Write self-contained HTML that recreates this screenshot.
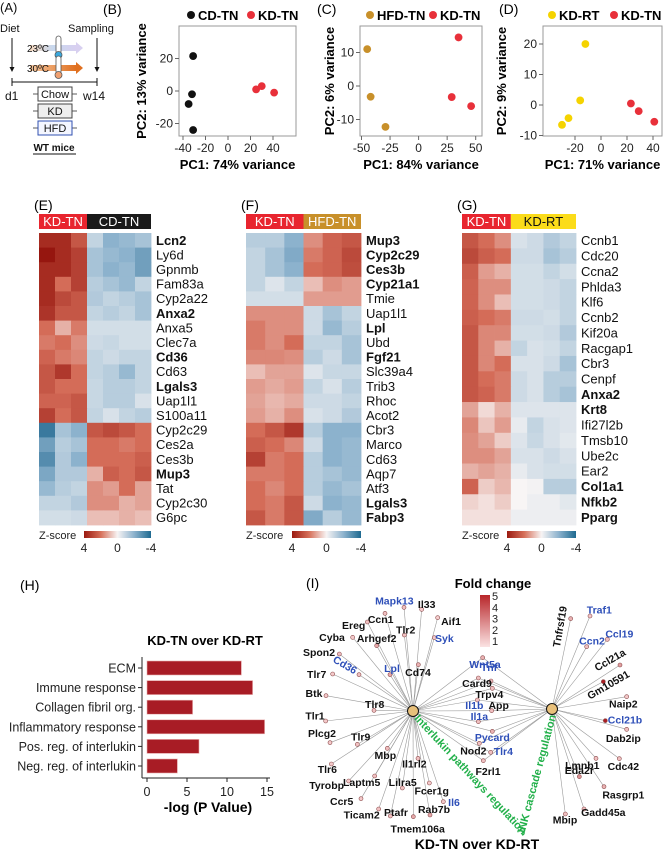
<!DOCTYPE html>
<html><head><meta charset="utf-8"><style>
html,body{margin:0;padding:0;background:#fff}
svg{display:block;font-family:"Liberation Sans",Arial,sans-serif}
</style></head><body>
<svg id="fig" width="663" height="852" viewBox="0 0 663 852" xmlns="http://www.w3.org/2000/svg">
<defs>
<linearGradient id="zg" x1="0" x2="1" y1="0" y2="0"><stop offset="0" stop-color="#9b1a10"/><stop offset="0.25" stop-color="#d6705a"/><stop offset="0.5" stop-color="#f7f4f4"/><stop offset="0.75" stop-color="#8cb2cd"/><stop offset="1" stop-color="#1e6a90"/></linearGradient>
<linearGradient id="fg" x1="0" x2="0" y1="0" y2="1"><stop offset="0" stop-color="#b8262a"/><stop offset="1" stop-color="#fbe3e3"/></linearGradient>
<linearGradient id="cold" x1="0" x2="1"><stop offset="0" stop-color="#f6d9c0"/><stop offset="0.5" stop-color="#c8d8ee"/><stop offset="1" stop-color="#d8d0f0"/></linearGradient>
<linearGradient id="warm" x1="0" x2="1"><stop offset="0" stop-color="#f6c8a0"/><stop offset="1" stop-color="#e07020"/></linearGradient>
</defs>

<!-- Panel A -->
<g font-size="11" fill="#111">
<text x="0" y="12" font-size="13">(A)</text>
<text x="0" y="32">Diet</text>
<text x="68" y="32">Sampling</text>
<line x1="12" y1="38" x2="12" y2="70" stroke="#111"/><path d="M9.5,67 L14.5,67 L12,72Z" fill="#111"/>
<line x1="97" y1="38" x2="97" y2="70" stroke="#111"/><path d="M94.5,67 L99.5,67 L97,72Z" fill="#111"/>
<rect x="30" y="45" width="46" height="6" fill="url(#cold)"/><path d="M76,42 L83,48 L76,54Z" fill="#d8d0f0"/>
<rect x="30" y="65" width="46" height="6" fill="url(#warm)"/><path d="M76,62 L83,68 L76,74Z" fill="#e07020"/>
<text x="27" y="52" font-size="10">23ºC</text>
<text x="27" y="72" font-size="10">30ºC</text>
<rect x="56" y="36" width="5" height="18" rx="2.5" fill="#fff" stroke="#555" stroke-width="0.8"/><circle cx="58.5" cy="55" r="3.5" fill="#3aa8dd" stroke="#555" stroke-width="0.8"/>
<rect x="56" y="56" width="5" height="18" rx="2.5" fill="#fff" stroke="#555" stroke-width="0.8"/><circle cx="58.5" cy="75" r="3.5" fill="#f0a070" stroke="#555" stroke-width="0.8"/>
<line x1="12" y1="82" x2="97" y2="82" stroke="#111"/><line x1="12" y1="78" x2="12" y2="86" stroke="#111"/><line x1="97" y1="78" x2="97" y2="86" stroke="#111"/>
<text x="5" y="100" font-size="12">d1</text>
<text x="83" y="100" font-size="12">w14</text>
<g stroke="#333" stroke-width="0.8"><line x1="33" y1="94" x2="38" y2="94"/><line x1="72" y1="94" x2="77" y2="94"/><line x1="33" y1="111" x2="38" y2="111"/><line x1="72" y1="111" x2="77" y2="111"/><line x1="33" y1="128" x2="38" y2="128"/><line x1="72" y1="128" x2="77" y2="128"/></g>
<rect x="38" y="87" width="34" height="14" fill="#fff" stroke="#444"/><text x="55" y="98" text-anchor="middle" font-size="11">Chow</text>
<rect x="38" y="104" width="34" height="14" fill="#eee" stroke="#444"/><text x="55" y="115" text-anchor="middle" font-size="11">KD</text>
<rect x="38" y="121" width="34" height="14" fill="#f4f6ff" stroke="#3050b0"/><text x="55" y="132" text-anchor="middle" font-size="11">HFD</text>
<text x="54" y="151" text-anchor="middle" font-weight="bold" font-size="10">WT mice</text>
<line x1="33" y1="154" x2="76" y2="154" stroke="#111"/>
</g>
<g id="pca"></g>
<g id="heat"></g>
<g id="bars"></g>
<g id="net"></g>
</svg>
<script>
const NS="http://www.w3.org/2000/svg";
function mk(parent,tag,attrs,text){const e=document.createElementNS(NS,tag);for(const k in attrs)e.setAttribute(k,attrs[k]);if(text!==undefined)e.textContent=text;parent.appendChild(e);return e;}

/* ---------- PCA data ---------- */
const pcaB_cd_x=[-31,-32,-35,-31], pcaB_cd_y=[21.5,-2,-8,-24];
const pcaB_kd_x=[25,30,41], pcaB_kd_y=[1,3,-1];
const pcaC_hfd_x=[-45,-42,-29], pcaC_hfd_y=[11,-3.2,-12.2];
const pcaC_kd_x=[35,29,46], pcaC_kd_y=[14.5,-3.3,-6];
const pcaD_rt_x=[-12,-16,-25,-30], pcaD_rt_y=[20,1.5,-4.3,-6.5];
const pcaD_kd_x=[23,29,41], pcaD_kd_y=[0.5,-2,-5.5];
const ticksBx=[-40,-20,0,20,40], ticksBy=[20,0,-20];
const ticksCx=[-50,-25,0,25,50], ticksCy=[10,0,-10];
const ticksDx=[-20,0,20,40], ticksDy=[20,10,0,-10];

const pcaG=document.getElementById('pca');
function pca(cfg){
  const g=mk(pcaG,'g',{});
  
  
  const sx=v=>cfg.x0+(v-cfg.dx0)*cfg.kx, sy=v=>cfg.y0-(v-cfg.dy0)*cfg.ky;
  mk(g,'rect',{x:cfg.L,y:cfg.T,width:cfg.R-cfg.L,height:cfg.B-cfg.T,fill:'none',stroke:'#999','stroke-width':1});
  mk(g,'text',{x:cfg.lab[0],y:cfg.lab[1],'font-size':14},cfg.label);
  cfg.xt.forEach(v=>{mk(g,'line',{x1:sx(v),x2:sx(v),y1:cfg.B,y2:cfg.B+4,stroke:'#666'});
    const tl=mk(g,'text',{x:sx(v),y:cfg.B+16,'text-anchor':'middle','font-size':12,fill:'#222'},v);
    });
  cfg.yt.forEach(v=>{mk(g,'line',{x1:cfg.L-4,x2:cfg.L,y1:sy(v),y2:sy(v),stroke:'#666'});
    const tl=mk(g,'text',{x:cfg.L-6,y:sy(v)+4,'text-anchor':'end','font-size':12,fill:'#222'},v);
    });
  const xt=mk(g,'text',{x:(cfg.L+cfg.R)/2,y:169,'text-anchor':'middle','font-size':13,'font-weight':'bold'},cfg.xtitle);
  
  const yt=mk(g,'text',{x:0,y:0,'text-anchor':'middle','font-size':13,'font-weight':'bold',transform:`translate(${cfg.ytx},${(cfg.T+cfg.B)/2}) rotate(-90)`},cfg.ytitle);
  
  cfg.series.forEach(s=>{
    const lg=mk(g,'g',{});
    
    mk(lg,'circle',{cx:s.lx+4,cy:15,r:4,fill:s.c});
    mk(lg,'text',{x:s.lx+11,y:20,'font-size':13,'font-weight':'bold'},s.n);
    s.xs.forEach((v,i)=>{const c=mk(g,'circle',{cx:sx(v),cy:sy(s.ys[i]),r:3.9,fill:s.c});
      });
  });
}
pca({name:'panel-b-pca',L:179,R:296,T:26,B:136,x0:228,dx0:0,kx:1.125,y0:91,dy0:0,ky:1.625,xt:ticksBx,yt:ticksBy,lab:[103,14],label:'(B)',xtitle:'PC1: 74% variance',ytitle:'PC2: 13% variance',ytx:146,
 series:[{n:'CD-TN',c:'#111',lx:187,xs:pcaB_cd_x,ys:pcaB_cd_y},{n:'KD-TN',c:'#e8303a',lx:247,xs:pcaB_kd_x,ys:pcaB_kd_y}]});
pca({name:'panel-c-pca',L:360,R:482,T:26,B:136,x0:418.6,dx0:0,kx:1.142,y0:86,dy0:0,ky:3.35,xt:ticksCx,yt:ticksCy,lab:[317,14],label:'(C)',xtitle:'PC1: 84% variance',ytitle:'PC2: 6% variance',ytx:334,
 series:[{n:'HFD-TN',c:'#c8902a',lx:366,xs:pcaC_hfd_x,ys:pcaC_hfd_y},{n:'KD-TN',c:'#e8303a',lx:429,xs:pcaC_kd_x,ys:pcaC_kd_y}]});
pca({name:'panel-d-pca',L:543,R:662,T:26,B:136,x0:601,dx0:0,kx:1.3,y0:105,dy0:0,ky:3.05,xt:ticksDx,yt:ticksDy,lab:[499,14],label:'(D)',xtitle:'PC1: 71% variance',ytitle:'PC2: 9% variance',ytx:506,
 series:[{n:'KD-RT',c:'#f5d300',lx:548,xs:pcaD_rt_x,ys:pcaD_rt_y},{n:'KD-TN',c:'#e8303a',lx:610,xs:pcaD_kd_x,ys:pcaD_kd_y}]});

/* ---------- Heatmap data ---------- */
const genesE=['Lcn2','Ly6d','Gpnmb','Fam83a','Cyp2a22','Anxa2','Anxa5','Clec7a','Cd36','Cd63','Lgals3','Uap1l1','S100a11','Cyp2c29','Ces2a','Ces3b','Mup3','Tat','Cyp2c30','G6pc'];
const boldE=['Lcn2','Anxa2','Cd36','Lgals3','Mup3'];
const zE=[[3.5,3.5,2.5,-1,-2,-1.8,-1.5],[4,3.5,3,-1.5,-1.8,-2,-2.5],[3.5,3.5,3,-1.5,-2,-1.8,-2.5],[3.5,2,3,-1.2,-1.5,-1.8,-1],[3.5,2.8,2.5,-1.3,-1,-1.2,-1.5],[3.3,2.5,2.5,-1,-1.2,-1,-1.5],[2,1,1.8,-0.7,-0.7,-0.7,-0.7],[1.8,2,1.5,-0.8,-0.9,-0.7,-0.7],[2.2,1.8,1.6,-1,-0.8,-1,-1],[2.5,3.2,2,-1,-1.2,-1.8,-1],[2.5,2,2,-0.9,-1.2,-1.2,-1],[2.2,2.2,2.5,-0.9,-1.2,-1.2,-0.6],[3,2,2.5,-1,-0.6,-1,-1.2],[-3.5,-1.5,-2,2.5,2.8,2.5,2],[-2.5,-1.2,-1.5,2,2,1.8,2],[-3,-1.3,-2,2,2,2,2.3],[-2.3,-1.3,-1.3,1,2.3,2,2.5],[-1.8,-1.2,-1,1.5,1.3,2,1.2],[-1,-1,-1.3,1.5,1.5,1,1.2],[-0.7,-0.7,-0.8,0.8,0.8,1,0.8]];
const genesF=['Mup3','Cyp2c29','Ces3b','Cyp21a1','Tmie','Uap1l1','Lpl','Ubd','Fgf21','Slc39a4','Trib3','Rhoc','Acot2','Cbr3','Marco','Cd63','Aqp7','Atf3','Lgals3','Fabp3'];
const boldF=['Mup3','Cyp2c29','Ces3b','Cyp21a1','Lpl','Fgf21','Lgals3','Fabp3'];
const zF=[[-1.2,-1.2,-2,1.5,2.2,2.5],[-1,-1.5,-2.2,1.8,2.2,2.8],[-1,-1.5,-2,2,2.2,2.7],[-1,-0.5,-1,0.8,1.5,1.3],[-0.7,-0.7,-0.7,1.3,1.3,1.3],[1.5,1.5,1.5,-0.8,-1.5,-1],[1.8,1.5,1.5,-0.8,-1.8,-1.2],[1.8,1.5,2,-1,-1,-1.5],[1.6,1.6,1.5,-1.2,-0.8,-1.5],[0.8,1.2,1.2,-0.5,-0.9,-0.9],[1.3,1.1,1.3,-1,-0.6,-1.2],[1.2,0.9,1.1,-0.8,-0.8,-1],[1.3,1,1.5,-0.6,-0.8,-1.3],[2,2.5,3.2,-1.2,-2,-2],[2.3,2,1.6,-0.8,-2,-1.8],[3,1.8,2,-1.2,-2,-1.8],[1.8,1.8,2,-1.2,-1.5,-1.8],[2,1.6,2,-1.2,-1.8,-1.5],[2,1.8,2.5,-0.8,-2,-1.8],[2.5,1.8,2.5,-2.2,-1.2,-1.8]];
const genesG=['Ccnb1','Cdc20','Ccna2','Phlda3','Klf6','Ccnb2','Kif20a','Racgap1','Cbr3','Cenpf','Anxa2','Krt8','Ifi27l2b','Tmsb10','Ube2c','Ear2','Col1a1','Nfkb2','Pparg'];
const boldG=['Anxa2','Krt8','Col1a1','Nfkb2','Pparg'];
const zG=[[2.5,2,1.5,-0.6,-0.8,-1.3,-1],[2.8,2.3,2,-0.8,-0.8,-1.5,-1.2],[2.3,1.3,1,-0.7,-0.7,-1,-0.7],[2.2,1.5,1.5,-0.7,-0.7,-0.8,-1],[2.2,1.5,0.8,-0.7,-0.7,-0.8,-1],[2.3,2,1.8,-0.8,-0.8,-0.7,-1],[2.5,1.6,1.6,-0.7,-0.7,-0.8,-1.3],[2.5,1.6,1,-1,-0.6,-0.7,-1],[2.5,1.6,2,-0.6,-0.6,-0.8,-1.5],[2.5,2,1.8,-0.8,-0.6,-1.2,-1.2],[2.5,2.2,1.8,-0.8,-0.6,-1.2,-1.5],[1.2,0.4,1,-0.5,-0.5,-0.5,-0.5],[1.6,0.7,1.3,-0.3,-1,-0.6,-0.5],[1.5,1.2,0.6,-0.5,-0.9,-0.6,-0.4],[1.5,1.5,1.2,-0.6,-0.6,-0.8,-0.6],[1,1.2,1,-0.3,-0.6,-0.7,-0.7],[2.2,0.6,0.9,0,-0.1,-1.2,-1.2],[0.5,0.3,0.6,0,-0.2,-0.2,-0.4],[0.3,0.3,0.3,-0.2,-0.2,-0.2,-0.2]];
const zScaleStops=[4,2,0,-2,-4];
const zScaleCols=[[150,22,15],[212,108,88],[248,245,245],[140,178,205],[30,102,142]];
function zcol(v){v=Math.max(-4,Math.min(4,v));
  for(let i=0;i<4;i++){const a=zScaleStops[i],b=zScaleStops[i+1];if(v<=a&&v>=b){const t=(a-v)/(a-b);const c=zScaleCols[i].map((x,k)=>Math.round(x+(zScaleCols[i+1][k]-x)*t));return `rgb(${c})`;}}return '#fff';}

const heatG=document.getElementById('heat');
function heat(cfg){
  const g=mk(heatG,'g',{});
  
  mk(g,'text',{x:cfg.L-5,y:210,'font-size':14},cfg.label);
  const top=233,bottom=525,rh=(bottom-top)/cfg.genes.length,nc=cfg.z[0].length,cw=(cfg.R-cfg.L)/nc;
  const xs=cfg.L+cw*cfg.split;
  const h1=mk(g,'rect',{x:cfg.L,y:214,width:xs-cfg.L,height:15,fill:'#e8252f'});
  
  mk(g,'text',{x:(cfg.L+xs)/2,y:226,'text-anchor':'middle','font-size':13,fill:'#fff'},'KD-TN');
  const h2=mk(g,'rect',{x:xs,y:214,width:cfg.R-xs,height:15,fill:cfg.g2c});
  
  mk(g,'text',{x:(xs+cfg.R)/2,y:226,'text-anchor':'middle','font-size':13,fill:cfg.g2t},cfg.g2);
  cfg.z.forEach((row,r)=>{row.forEach((v,c)=>{
    const cell=mk(g,'rect',{x:cfg.L+c*cw,y:top+r*rh,width:cw+0.4,height:rh+0.4,fill:zcol(v)});
    });
    const gn=cfg.genes[r];const b=cfg.bold.includes(gn);
    const tl=mk(g,'text',{x:cfg.R+5,y:top+r*rh+rh/2+4.5,'font-size':13,'font-weight':b?'bold':'normal',fill:'#111'},gn);
    
  });
  const lg=mk(g,'g',{});
  
  mk(lg,'text',{x:cfg.L,y:539,'font-size':11,fill:'#222'},'Z-score');
  mk(lg,'rect',{x:cfg.zl,y:531,width:cfg.R-cfg.zl,height:7,fill:'url(#zg)'});
  const zlabels=[4,0,-4];
  zlabels.forEach((v,i)=>{const x=cfg.zl+(cfg.R-cfg.zl)*i/2;mk(lg,'text',{x:x,y:552,'text-anchor':'middle','font-size':12,fill:'#222'},v);});
}
heat({name:'panel-e-heatmap',label:'(E)',L:39,R:151,split:3,genes:genesE,bold:boldE,z:zE,g2:'CD-TN',g2c:'#1a1a1a',g2t:'#fff',zl:84});
heat({name:'panel-f-heatmap',label:'(F)',L:246,R:361,split:3,genes:genesF,bold:boldF,z:zF,g2:'HFD-TN',g2c:'#c8902a',g2t:'#fff',zl:292});
heat({name:'panel-g-heatmap',label:'(G)',L:462,R:576,split:3,genes:genesG,bold:boldG,z:zG,g2:'KD-RT',g2c:'#fbdc1a',g2t:'#111',zl:507});

/* ---------- Bar chart H ---------- */
const barTerms=['ECM','Immune response','Collagen fibril org.','Inflammatory response','Pos. reg. of interlukin','Neg. reg. of interlukin'];
const barValues=[11.8,13.2,5.7,14.7,6.5,3.8];
const barTicks=[0,5,10,15];
(function(){
  const g=document.getElementById('bars');
  
  const x=v=>147+v*8, y=i=>668+i*19.6;
  mk(g,'text',{x:20,y:590,'font-size':14},'(H)');
  const t=mk(g,'text',{x:205,y:645,'text-anchor':'middle','font-size':13,'font-weight':'bold'},'KD-TN over KD-RT');
  
  mk(g,'line',{x1:142,x2:142,y1:657,y2:778,stroke:'#222'});
  mk(g,'line',{x1:142,x2:270,y1:778,y2:778,stroke:'#222'});
  barTerms.forEach((n,i)=>{
    const b=mk(g,'rect',{x:x(0),y:y(i)-7,width:x(barValues[i])-x(0),height:14,fill:'#a81c25',stroke:'#e8b0b0','stroke-width':0.6});
    
    mk(g,'line',{x1:138,x2:142,y1:y(i),y2:y(i),stroke:'#222'});
    const l=mk(g,'text',{x:136,y:y(i)+4.5,'text-anchor':'end','font-size':12.5,fill:'#222'},n);
    
  });
  barTicks.forEach(v=>{mk(g,'line',{x1:x(v),x2:x(v),y1:778,y2:782,stroke:'#222'});
    const l=mk(g,'text',{x:x(v),y:796,'text-anchor':'middle','font-size':12.5,fill:'#222'},v);
    });
  const xt=mk(g,'text',{x:208,y:812,'text-anchor':'middle','font-size':14,'font-weight':'bold'},'-log (P Value)');
  
})();

/* ---------- Network I ---------- */
const netNames=['Mapk13','Il33','Ccn1','Aif1','Ereg','Tlr2','Cyba','Arhgef2','Syk','Spon2','Cd36','Lpl','Cd74','Tlr7','Btk','Tlr8','Tlr1','Plcg2','Tlr9','Tlr6','Mbp','Il1rl2','Tyrobp','Laptm5','Lilra5','Fcer1g','Il6','Ccr5','Ticam2','Ptafr','Rab7b','Tmem106a','Wnt5a','Tnf','Card9','Trpv4','Il1b','App','Il1a','Pycard','Nod2','Tlr4','F2rl1','Tnfrsf19','Traf1','Ccl19','Ccn2','Ccl21a','Gm10591','Naip2','Ccl21b','Dab2ip','Cdc42','Lmnb1','Eda2r','Rasgrp1','Gadd45a','Mbip'];
const netFold=[1.5,1.3,1.5,1.2,1.5,1.5,1.3,2,1.3,1.6,1.5,2,1.8,1.3,1.3,1.5,1.3,1.3,1.5,1.3,1.6,1.5,1.3,1.5,1.5,1.3,1.3,1.3,1.5,1.5,2,2,1.8,1.5,1.5,1.5,1.5,1.5,1.5,1.8,1.5,1.5,1.5,1.8,1.3,1.5,1.5,2.2,5,1.3,5,1.5,1.5,1.5,2.5,1.8,1.5,1.5];
const netBlue=['Mapk13','Syk','Cd36','Lpl','Il6','Wnt5a','Tnf','Il1b','Il1a','Pycard','Tlr4','Traf1','Ccl19','Ccn2','Ccl21b'];
const netHub=[1,1,1,1,1,1,1,1,1,1,1,1,1,1,1,1,1,1,1,1,1,1,1,1,1,1,1,1,1,1,1,1,3,3,3,3,3,3,3,3,3,3,3,2,2,2,2,2,2,2,2,2,2,2,2,2,2,2];
/* layout positions (zoom-space coordinates of the node dots and labels) */
const layout=[[342,322,313,303],[395,328,410,313],[285,340,272,358],[443,353,483,364],[232,366,191,376],[343,405,347,390],[188,412,126,412],[260,437,260,416],[433,413,463,416],[148,462,87,458],[207,524,165,495],[300,524,306,506],[385,494,384,517],[128,522,80,523],[108,587,72,580],[252,631,254,614],[107,663,75,648],[120,728,96,700],[202,733,212,711],[124,792,112,808],[292,745,286,766],[384,775,373,792],[176,843,110,857],[254,828,215,848],[337,864,338,848],[418,849,425,873],[460,905,492,908],[213,896,155,905],[266,927,215,945],[301,948,318,937],[420,945,432,928],[370,950,383,987],[578,473,585,493],[565,534,597,502],[603,543,561,550],[607,565,598,583],[562,600,553,617],[605,632,626,617],[565,665,568,650],[607,694,607,712],[568,730,550,753],[602,757,640,755],[580,782,594,815],[842,356,810,380],[900,348,928,330],[952,418,988,402],[890,440,906,423],[990,495,960,480],[940,545,955,555],[1010,590,1000,612],[946,662,1005,660],[1010,688,1000,715],[988,776,1000,800],[918,775,877,797],[868,830,868,812],[942,860,1000,885],[882,927,940,938],[826,942,825,960]];
(function(){
  const g=document.getElementById('net');
  
  const P=(zx,zy)=>[290+zx/3,500+zy/3];
  const hubs=[[413,711],[552,709]];
  mk(g,'text',{x:306,y:588,'font-size':14},'(I)');
  const ft=mk(g,'text',{x:493,y:588,'text-anchor':'middle','font-size':13,'font-weight':'bold'},'Fold change');
  
  const fb=mk(g,'rect',{x:480,y:595,width:10,height:52,fill:'url(#fg)'});
  
  [5,4,3,2,1].forEach((v,i)=>mk(g,'text',{x:492,y:600+i*11.3,'font-size':11,fill:'#222'},v));
  const edges=mk(g,'g',{stroke:'#9a9a9a','stroke-width':0.6});
  const nodes=mk(g,'g',{});
  netNames.forEach((n,i)=>{
    const [dx,dy]=P(layout[i][0],layout[i][1]);
    [0,1].forEach(h=>{if(netHub[i]&(1<<h)){const e=mk(edges,'line',{x1:hubs[h][0],y1:hubs[h][1],x2:dx,y2:dy});
      }});
    const t=Math.min(1,(netFold[i]-1)/4);
    const col=`rgb(${Math.round(250-(250-170)*t)},${Math.round(215-(215-30)*t)},${Math.round(215-(215-35)*t)})`;
    const c=mk(nodes,'circle',{cx:dx,cy:dy,r:2,fill:col,stroke:'#8a4a4a','stroke-width':0.6});
    
    const [lx,ly]=P(layout[i][2],layout[i][3]);
    let tr='';
    if(n==='Tnfrsf19')tr=`rotate(-80 ${lx} ${ly})`;
    if(n==='Ccl21a'||n==='Gm10591')tr=`rotate(-30 ${lx} ${ly})`;
    if(n==='Cd36')tr=`rotate(30 ${lx} ${ly})`;
    const l=mk(nodes,'text',{x:lx,y:ly+3.5,'text-anchor':'middle','font-size':10.5,'font-weight':'bold',fill:netBlue.includes(n)?'#2e4fb8':'#111',transform:tr},n);
    
  });
  hubs.forEach((h,i)=>{const c=mk(g,'circle',{cx:h[0],cy:h[1],r:5.5,fill:'#e8c07a',stroke:'#111','stroke-width':1});
    });
  const a=mk(g,'text',{x:0,y:0,'text-anchor':'middle','font-size':11,'font-weight':'bold',fill:'#22b04a',transform:'translate(468,777) rotate(47)'},'Interlukin pathways regulation');
  
  const b=mk(g,'text',{x:0,y:0,'text-anchor':'middle','font-size':11,'font-weight':'bold',fill:'#22b04a',transform:'translate(540,776) rotate(-75)'},'JNK cascade regulation');
  
  const bt=mk(g,'text',{x:477,y:849,'text-anchor':'middle','font-size':14,'font-weight':'bold'},'KD-TN over KD-RT');
  
})();
</script>
</body></html>
